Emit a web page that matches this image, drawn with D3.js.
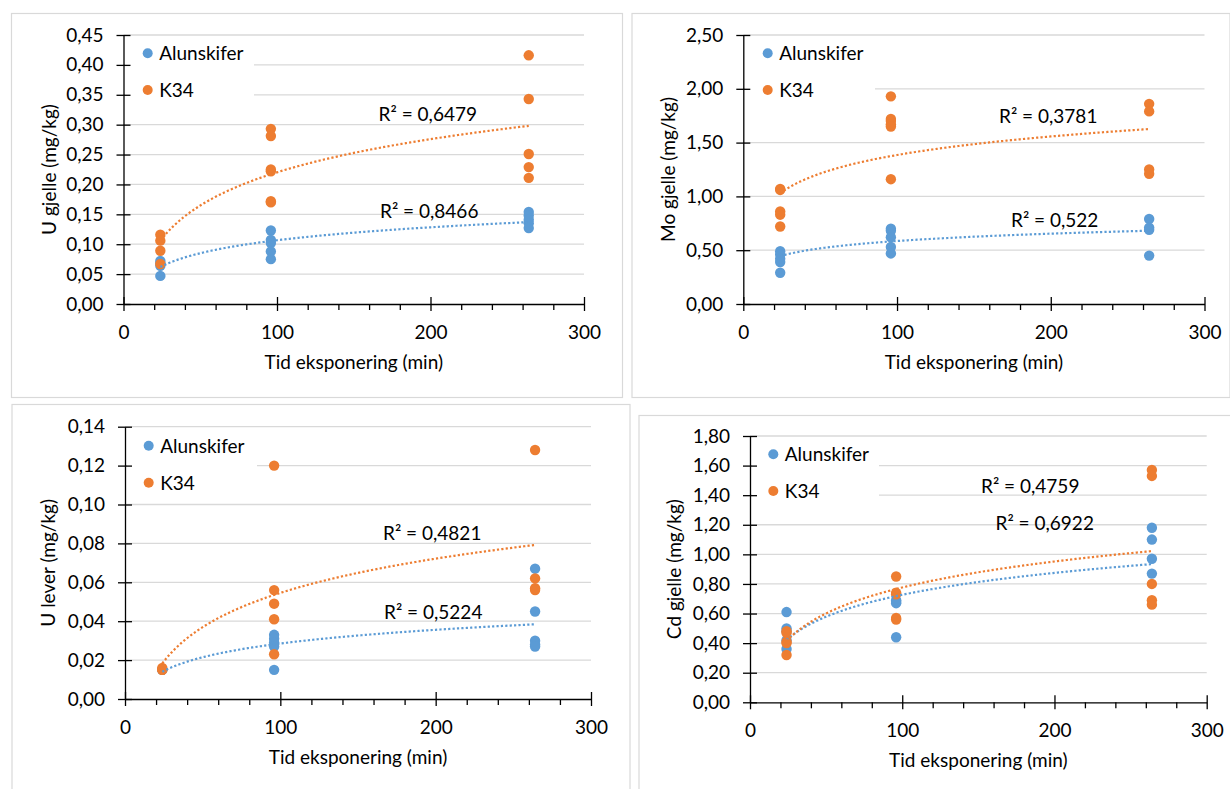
<!DOCTYPE html>
<html>
<head>
<meta charset="utf-8">
<script src="https://cdn.jsdelivr.net/npm/d3@7"></script>
<style>
  body { margin: 0; background: #fff; }
  svg { display: block; }
  text { font-family: Lato, "Open Sans", sans-serif; }
</style>
</head>
<body>
<svg id="chart" width="1230" height="789"></svg>
<script>
// ---------- DATA ----------
const timeValues = [24, 96, 264];            // Tid eksponering (min)
const seriesNames = ["Alunskifer", "K34"];
const seriesColors = ["#5B9BD5", "#ED7D31"];
const xMajorTicks = [0, 100, 200, 300];
const xMinorTicks = [20, 40, 60, 80, 120, 140, 160, 180, 220, 240, 260, 280];
const xTitle = "Tid eksponering (min)";

// U gjelle
const uGjelleAlunskifer = [[0.072, 0.068, 0.064, 0.047], [0.123, 0.107, 0.102, 0.088, 0.075], [0.154, 0.148, 0.141, 0.135, 0.127]];
const uGjelleK34 = [[0.116, 0.106, 0.089, 0.067], [0.293, 0.281, 0.225, 0.222, 0.172, 0.170], [0.416, 0.343, 0.251, 0.229, 0.211]];
const uGjelleTicks = [0, 0.05, 0.10, 0.15, 0.20, 0.25, 0.30, 0.35, 0.40, 0.45];
const uGjelleTrend = [[0.062, 0.137], [0.106, 0.298]];   // log trendline value at first/last time
const uGjelleR2 = ["R² = 0,8466", "R² = 0,6479"];

// Mo gjelle
const moGjelleAlunskifer = [[0.49, 0.46, 0.42, 0.39, 0.29], [0.70, 0.68, 0.62, 0.53, 0.47], [0.79, 0.71, 0.69, 0.45]];
const moGjelleK34 = [[1.07, 1.06, 0.86, 0.83, 0.72], [1.93, 1.72, 1.70, 1.67, 1.65, 1.16], [1.86, 1.79, 1.25, 1.21]];
const moGjelleTicks = [0, 0.5, 1.0, 1.5, 2.0, 2.5];
const moGjelleTrend = [[0.445, 0.681], [1.03, 1.626]];
const moGjelleR2 = ["R² = 0,522", "R² = 0,3781"];

// U lever
const uLeverAlunskifer = [[0.015, 0.015], [0.033, 0.031, 0.029, 0.027, 0.015], [0.067, 0.045, 0.030, 0.028, 0.027]];
const uLeverK34 = [[0.016, 0.015, 0.015], [0.120, 0.056, 0.049, 0.041, 0.023], [0.128, 0.062, 0.057, 0.056]];
const uLeverTicks = [0, 0.02, 0.04, 0.06, 0.08, 0.10, 0.12, 0.14];
const uLeverTrend = [[0.014, 0.0384], [0.0183, 0.0792]];
const uLeverR2 = ["R² = 0,5224", "R² = 0,4821"];

// Cd gjelle
const cdGjelleAlunskifer = [[0.61, 0.50, 0.48, 0.42, 0.36], [0.69, 0.68, 0.67, 0.44], [1.18, 1.10, 0.97, 0.87]];
const cdGjelleK34 = [[0.48, 0.47, 0.41, 0.40, 0.32], [0.85, 0.74, 0.73, 0.57, 0.56], [1.57, 1.53, 0.80, 0.69, 0.66]];
const cdGjelleTicks = [0, 0.2, 0.4, 0.6, 0.8, 1.0, 1.2, 1.4, 1.6, 1.8];
const cdGjelleTrend = [[0.422, 0.934], [0.415, 1.022]];
const cdGjelleR2 = ["R² = 0,6922", "R² = 0,4759"];

// ---------- LAYOUT ----------
const panels = [
  { title: "U gjelle (mg/kg)", series: [uGjelleAlunskifer, uGjelleK34], ticks: uGjelleTicks, trend: uGjelleTrend, r2: uGjelleR2,
    frame: [11, 13, 611, 384], left: 123.5, right: 584, top: 35, bottom: 304, yTitleOff: 67.5,
    legendBox: [125, 37, 129, 71], legendX: 147.7, legendY: [53.3, 90], r2Pos: [[380, 218], [378.6, 120.5]] },
  { title: "Mo gjelle (mg/kg)", series: [moGjelleAlunskifer, moGjelleK34], ticks: moGjelleTicks, trend: moGjelleTrend, r2: moGjelleR2,
    frame: [631.5, 13, 598, 384], left: 743.3, right: 1204.5, top: 35, bottom: 304, yTitleOff: 68,
    legendBox: [745, 37, 130, 71], legendX: 767.7, legendY: [53.3, 90], r2Pos: [[1011, 226.5], [999, 123]] },
  { title: "U lever (mg/kg)", series: [uLeverAlunskifer, uLeverK34], ticks: uLeverTicks, trend: uLeverTrend, r2: uLeverR2,
    frame: [11.5, 404, 618, 400], left: 125, right: 591, top: 426.7, bottom: 699, yTitleOff: 70,
    legendBox: [127, 429, 130, 66], legendX: 148.7, legendY: [445.7, 482.7], r2Pos: [[384, 619], [383, 540]] },
  { title: "Cd gjelle (mg/kg)", series: [cdGjelleAlunskifer, cdGjelleK34], ticks: cdGjelleTicks, trend: cdGjelleTrend, r2: cdGjelleR2,
    frame: [638.5, 415, 600, 400], left: 750, right: 1206.7, top: 436, bottom: 702.3, yTitleOff: 69,
    legendBox: [752, 438, 127, 74], legendX: 773.3, legendY: [454.3, 491], r2Pos: [[995.5, 530], [981, 493]] }
];

const FONT = 19;
const svg = d3.select("#chart");
const locale = d3.formatLocale({ decimal: ",", thousands: " ", grouping: [3], currency: ["", ""] });
const fmt2 = locale.format(".2f");

function drawPanel(p) {
  const g = svg.append("g");
  g.append("rect")
    .attr("x", p.frame[0] + 0.5).attr("y", p.frame[1] + 0.5)
    .attr("width", p.frame[2]).attr("height", p.frame[3])
    .attr("fill", "#fff").attr("stroke", "#d9d9d9").attr("stroke-width", 1.2);

  const x = d3.scaleLinear().domain([0, 300]).range([p.left, p.right]);
  const y = d3.scaleLinear().domain([0, d3.max(p.ticks)]).range([p.bottom, p.top]);

  // gridlines
  g.append("g").selectAll("line").data(p.ticks.filter(d => d > 0)).join("line")
    .attr("x1", p.left).attr("x2", p.right)
    .attr("y1", d => y(d)).attr("y2", d => y(d))
    .attr("stroke", "#d9d9d9").attr("stroke-width", 1.3);

  // legend background
  g.append("rect")
    .attr("x", p.legendBox[0]).attr("y", p.legendBox[1])
    .attr("width", p.legendBox[2]).attr("height", p.legendBox[3])
    .attr("fill", "#fff");

  // y axis
  const ya = g.append("g").attr("transform", `translate(${p.left},0)`)
    .call(d3.axisLeft(y).tickValues(p.ticks).tickFormat(fmt2).tickSizeInner(7).tickSizeOuter(0).tickPadding(13));
  ya.attr("color", "#000").attr("font-family", null).attr("font-size", null);
  ya.selectAll(".tick line").attr("x1", 7).attr("stroke-width", 1.3);
  ya.select(".domain").attr("stroke-width", 1.3);
  ya.selectAll(".tick text").style("font-size", FONT + "px").attr("fill", "#000");

  // x axis (major, crossing)
  const xa = g.append("g").attr("transform", `translate(0,${p.bottom})`)
    .call(d3.axisBottom(x).tickValues(xMajorTicks).tickFormat(d3.format("d")).tickSizeInner(7).tickSizeOuter(0));
  xa.attr("color", "#000").attr("font-family", null).attr("font-size", null);
  xa.selectAll(".tick line").attr("y1", -7).attr("stroke-width", 1.3);
  xa.select(".domain").attr("stroke-width", 1.3);
  xa.selectAll(".tick text").attr("y", 35).attr("dy", null).style("font-size", FONT + "px").attr("fill", "#000");

  // x axis minor ticks
  const xm = g.append("g").attr("transform", `translate(0,${p.bottom})`)
    .call(d3.axisBottom(x).tickValues(xMinorTicks).tickFormat("").tickSizeInner(6).tickSizeOuter(0));
  xm.attr("color", "#000");
  xm.select(".domain").remove();
  xm.selectAll(".tick line").attr("stroke-width", 1.3);

  // axis titles
  g.append("text")
    .attr("x", (p.left + p.right) / 2).attr("y", p.bottom + 65)
    .attr("text-anchor", "middle").style("font-size", FONT + "px").attr("fill", "#000")
    .text(xTitle);
  g.append("text")
    .attr("transform", `translate(${p.left - p.yTitleOff},${(p.top + p.bottom) / 2}) rotate(-90)`)
    .attr("text-anchor", "middle").style("font-size", FONT + "px").attr("fill", "#000")
    .text(p.title);

  // points
  p.series.forEach((vals, si) => {
    const pts = [];
    timeValues.forEach((t, i) => vals[i].forEach(v => pts.push({ t, v })));
    g.append("g").selectAll("circle").data(pts).join("circle")
      .attr("cx", d => x(d.t)).attr("cy", d => y(d.v)).attr("r", 5.2)
      .attr("fill", seriesColors[si]);
  });

  // logarithmic trendlines (through values read at first and last time)
  const t0 = timeValues[0], t1 = timeValues[timeValues.length - 1];
  p.trend.forEach((tv, si) => {
    const a = (tv[1] - tv[0]) / (Math.log(t1) - Math.log(t0));
    const b = tv[0] - a * Math.log(t0);
    const samples = d3.range(t0, t1 + 0.001, 1);
    g.append("path")
      .datum(samples)
      .attr("d", d3.line().x(t => x(t)).y(t => y(a * Math.log(t) + b)))
      .attr("fill", "none").attr("stroke", seriesColors[si])
      .attr("stroke-width", 2.2).attr("stroke-dasharray", "2.2 2.2");
  });

  // R² labels
  p.r2.forEach((txt, si) => {
    g.append("text")
      .attr("x", p.r2Pos[si][0]).attr("y", p.r2Pos[si][1])
      .style("font-size", FONT + "px").attr("fill", "#000")
      .text(txt);
  });

  // legend
  seriesNames.forEach((name, si) => {
    g.append("circle").attr("cx", p.legendX).attr("cy", p.legendY[si]).attr("r", 5)
      .attr("fill", seriesColors[si]);
    g.append("text").attr("x", p.legendX + 11.5).attr("y", p.legendY[si] + 6.8)
      .style("font-size", FONT + "px").attr("fill", "#000").text(name);
  });
}

panels.forEach(drawPanel);
</script>
</body>
</html>
